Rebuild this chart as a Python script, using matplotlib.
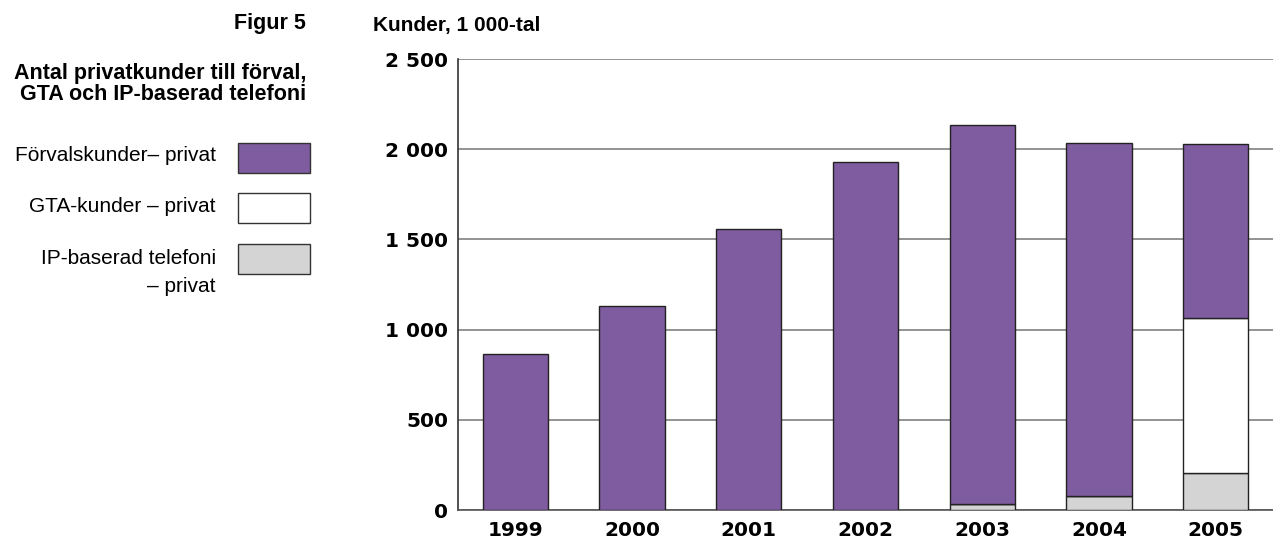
import matplotlib.pyplot as plt
from matplotlib.patches import Rectangle
import numpy as np

plt.rcParams['font.family'] = ['Liberation Sans', 'DejaVu Sans']

years = ['1999', '2000', '2001', '2002', '2003', '2004', '2005']
ip_telefoni = [0, 0, 0, 0, 35, 79, 207]
gta_kunder = [0, 0, 0, 0, 0, 0, 856]
forval_kunder = [865, 1131, 1558, 1929, 2099, 1954, 966]

lila = '#7f5ba0'
gra = '#d4d4d4'

fig = plt.figure(figsize=(12.73, 5.47), dpi=100)
ax = fig.add_axes([0.3598, 0.0676, 0.6402, 0.8245])

x = np.arange(len(years))
ip = np.array(ip_telefoni)
gta = np.array(gta_kunder)
fv = np.array(forval_kunder)
bredd = 0.56
ax.bar(x, ip, bredd, color=gra, edgecolor='#222222', linewidth=1, zorder=3)
ax.bar(x, gta, bredd, bottom=ip, color='white', edgecolor='#222222', linewidth=1, zorder=3)
ax.bar(x, fv, bredd, bottom=ip + gta, color=lila, edgecolor='#222222', linewidth=1, zorder=3)

ax.set_xlim(-0.49, 6.49)
ax.set_ylim(0, 2500)
ax.set_yticks([0, 500, 1000, 1500, 2000, 2500])
ax.set_yticklabels(['0', '500', '1 000', '1 500', '2 000', '2 500'])
ax.set_xticks(x)
ax.set_xticklabels(years)
ax.tick_params(axis='both', length=0, labelsize=14.5)
ax.tick_params(axis='y', pad=7)
ax.tick_params(axis='x', pad=8)
for lab in ax.get_xticklabels() + ax.get_yticklabels():
    lab.set_fontweight('bold')
    lab.set_family('DejaVu Sans')
ax.yaxis.grid(True, color='#808080', linewidth=1.2, zorder=0)
ax.spines['top'].set_visible(False)
ax.spines['right'].set_visible(False)
ax.spines['left'].set_color('#333333')
ax.spines['bottom'].set_color('#555555')
ax.spines['left'].set_linewidth(1.2)
ax.spines['bottom'].set_linewidth(1.2)

W, H = 1273, 547
def fx(px):
    return px / W
def fy(py):
    return 1 - py / H

fig.text(fx(373), fy(25), 'Kunder, 1 000-tal', fontsize=15, fontweight='bold', va='center', ha='left')
fig.text(fx(306), fy(23), 'Figur 5', fontsize=15.5, fontweight='bold', va='center', ha='right')
fig.text(fx(306), fy(73), 'Antal privatkunder till förval,', fontsize=15.5, fontweight='bold', va='center', ha='right')
fig.text(fx(306), fy(94), 'GTA och IP-baserad telefoni', fontsize=15.5, fontweight='bold', va='center', ha='right')

# legend drawn by hand
legend_colors = [lila, 'white', gra]
box_tops = [143, 193, 244]
for col, top in zip(legend_colors, box_tops):
    fig.patches.append(Rectangle((fx(238), fy(top + 30)), fx(72), 30 / H, transform=fig.transFigure,
                                 facecolor=col, edgecolor='#333333', linewidth=1))

fig.text(fx(216), fy(156), 'Förvalskunder– privat', fontsize=15, va='center', ha='right')
fig.text(fx(216), fy(207), 'GTA-kunder – privat', fontsize=15, va='center', ha='right')
fig.text(fx(216), fy(258), 'IP-baserad telefoni', fontsize=15, va='center', ha='right')
fig.text(fx(216), fy(287), '– privat', fontsize=15, va='center', ha='right')

fig.savefig('out.png', dpi=100)
